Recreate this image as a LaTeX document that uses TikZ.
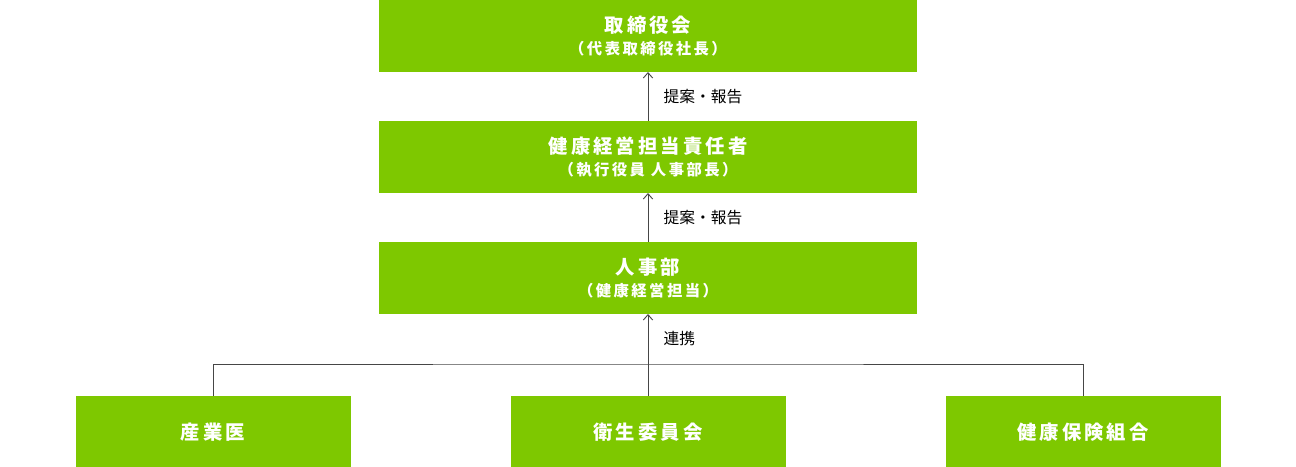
\documentclass[tikz,border=0pt]{standalone}
\usepackage{fontspec}
\setmainfont{Noto Sans CJK JP}
\newfontfamily\boxfont[LetterSpace=16]{Noto Sans CJK JP}
\usetikzlibrary{positioning}
\usetikzlibrary{arrows.meta}
\definecolor{leaf}{RGB}{126,200,0}
\definecolor{wire}{RGB}{70,70,70}
\newcommand{\subline}[1]{\fontsize{11.5}{16.5}\selectfont #1}

\begin{document}
\begin{tikzpicture}[->, >={Straight Barb[length=4pt,width=7pt]}, draw=wire, line width=0.7pt, node distance=36.75pt]
		\tikzstyle{block}=[draw=none,rectangle,fill=leaf,text=white,minimum width=403.5pt,minimum height=54pt,inner sep=0pt,outer sep=0pt,align=center,font=\boxfont\bfseries\fontsize{14.5}{16.5}\selectfont]
		\tikzstyle{leafbox}=[block,minimum width=206.25pt]
		\tikzstyle{annot}=[right=8pt,text=black,font=\fontsize{11.8}{12}\selectfont]

		\useasboundingbox (0,0) rectangle (972pt,-350.25pt);

		\node[block] (board) at (486pt,-27pt) {取締役会\\\subline{（代表取締役社長）}};
		\node[block, below=of board] (officer) {健康経営担当責任者\\\subline{（執行役員 人事部長）}};
		\node[block, below=of officer] (hr) {人事部\\\subline{（健康経営担当）}};
		\node[leafbox, below=61.5pt of hr] (committee) {衛生委員会};
		\node[leafbox, left=120pt of committee] (doctor) {産業医};
		\node[leafbox, right=120pt of committee] (union) {健康保険組合};

		\coordinate[below=37.5pt of hr.south] (join);

		\draw (join) -- node[annot] {連携} (hr.south);
		\draw[-] (committee.north) -- (join);
		\draw[-] (doctor.north) |- (join) -| (union.north);
		\draw (officer.north) -- node[annot] {提案・報告} (board.south);
		\draw (hr.north) -- node[annot] {提案・報告} (officer.south);
	\end{tikzpicture}
\end{document}
